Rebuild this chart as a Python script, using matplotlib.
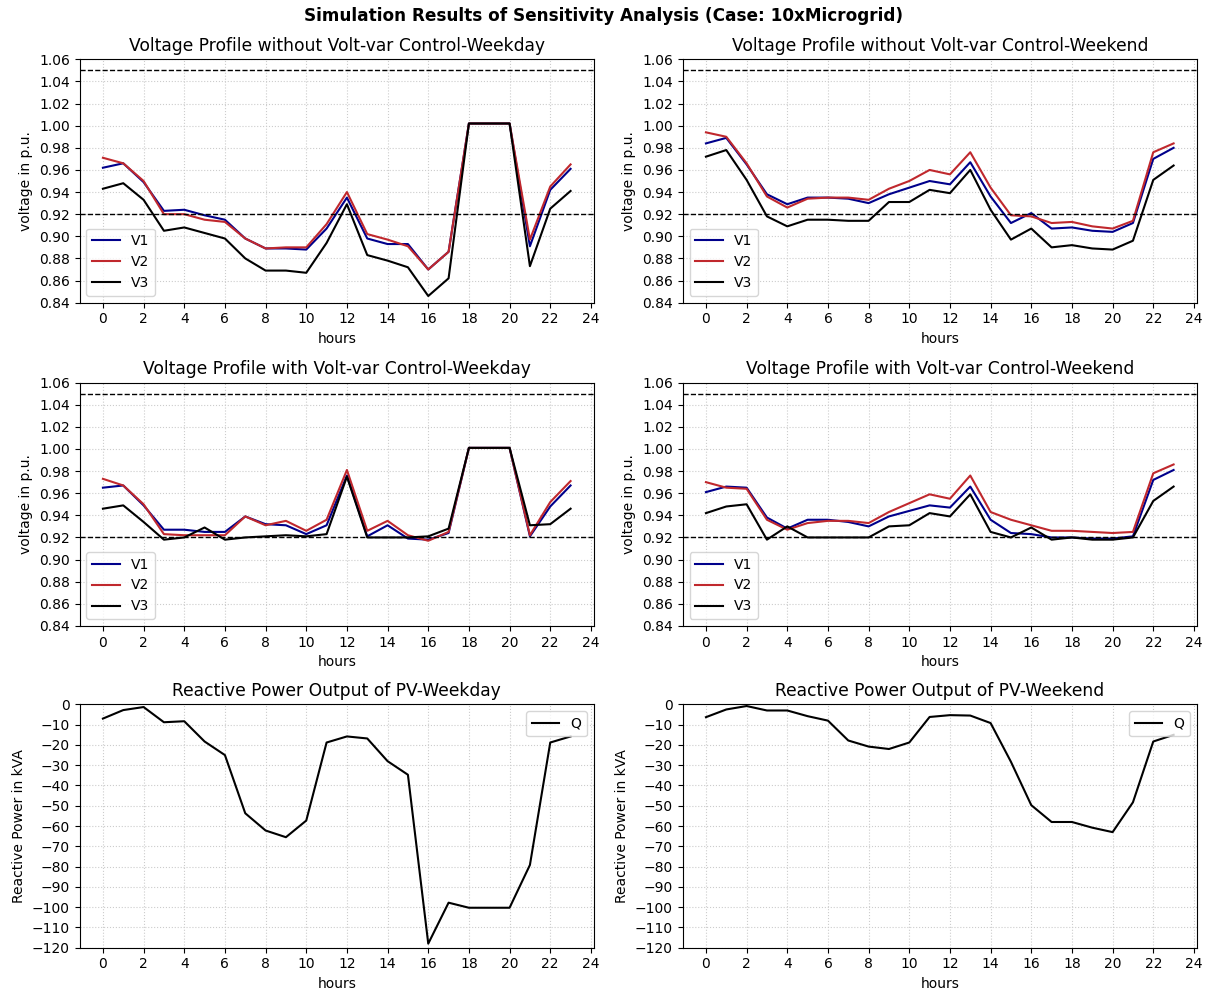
import matplotlib
matplotlib.use("Agg")
import matplotlib.pyplot as plt
import numpy as np

hours = np.arange(24)

# voltage without volt-var control, weekday
v1_nc_wd = [0.962, 0.966, 0.949, 0.923, 0.924, 0.919, 0.915, 0.898, 0.889, 0.889, 0.888, 0.907,
            0.935, 0.898, 0.893, 0.893, 0.870, 0.886, 1.002, 1.002, 1.002, 0.891, 0.942, 0.961]
v2_nc_wd = [0.971, 0.966, 0.950, 0.920, 0.920, 0.915, 0.913, 0.898, 0.889, 0.890, 0.890, 0.911,
            0.940, 0.902, 0.897, 0.891, 0.870, 0.886, 1.002, 1.002, 1.002, 0.897, 0.945, 0.965]
v3_nc_wd = [0.943, 0.948, 0.933, 0.905, 0.908, 0.903, 0.898, 0.880, 0.869, 0.869, 0.867, 0.894,
            0.929, 0.883, 0.878, 0.872, 0.846, 0.862, 1.002, 1.002, 1.002, 0.873, 0.925, 0.941]

# voltage without volt-var control, weekend
v1_nc_we = [0.984, 0.989, 0.965, 0.938, 0.929, 0.935, 0.935, 0.934, 0.930, 0.938, 0.944, 0.950,
            0.947, 0.967, 0.936, 0.912, 0.921, 0.907, 0.908, 0.905, 0.904, 0.912, 0.970, 0.980]
v2_nc_we = [0.994, 0.990, 0.966, 0.936, 0.926, 0.934, 0.935, 0.935, 0.933, 0.943, 0.950, 0.960,
            0.956, 0.976, 0.944, 0.919, 0.918, 0.912, 0.913, 0.909, 0.907, 0.914, 0.976, 0.984]
v3_nc_we = [0.972, 0.978, 0.951, 0.918, 0.909, 0.915, 0.915, 0.914, 0.914, 0.931, 0.931, 0.942,
            0.939, 0.960, 0.924, 0.897, 0.907, 0.890, 0.892, 0.889, 0.888, 0.896, 0.951, 0.964]

# voltage with volt-var control, weekday
v1_c_wd = [0.965, 0.967, 0.949, 0.927, 0.927, 0.925, 0.925, 0.939, 0.932, 0.931, 0.923, 0.931,
           0.976, 0.921, 0.931, 0.919, 0.918, 0.924, 1.001, 1.001, 1.001, 0.921, 0.948, 0.967]
v2_c_wd = [0.973, 0.967, 0.950, 0.923, 0.922, 0.922, 0.922, 0.939, 0.931, 0.935, 0.926, 0.936,
           0.981, 0.926, 0.935, 0.922, 0.917, 0.925, 1.001, 1.001, 1.001, 0.922, 0.952, 0.971]
v3_c_wd = [0.946, 0.949, 0.934, 0.918, 0.920, 0.929, 0.918, 0.920, 0.921, 0.922, 0.921, 0.923,
           0.975, 0.920, 0.920, 0.920, 0.921, 0.928, 1.001, 1.001, 1.001, 0.931, 0.932, 0.946]

# voltage with volt-var control, weekend
v1_c_we = [0.961, 0.966, 0.965, 0.938, 0.928, 0.936, 0.936, 0.934, 0.930, 0.939, 0.944, 0.949,
           0.947, 0.966, 0.936, 0.924, 0.923, 0.920, 0.920, 0.919, 0.919, 0.921, 0.972, 0.981]
v2_c_we = [0.970, 0.965, 0.964, 0.936, 0.927, 0.933, 0.935, 0.935, 0.933, 0.943, 0.951, 0.959,
           0.955, 0.976, 0.943, 0.936, 0.931, 0.926, 0.926, 0.925, 0.924, 0.925, 0.978, 0.986]
v3_c_we = [0.942, 0.948, 0.950, 0.918, 0.930, 0.920, 0.920, 0.920, 0.920, 0.930, 0.931, 0.942,
           0.939, 0.959, 0.925, 0.920, 0.929, 0.918, 0.920, 0.918, 0.918, 0.920, 0.953, 0.966]

# reactive power of PV
q_wd = [-7.0, -2.8, -1.3, -8.8, -8.3, -18.3, -25.0, -53.7, -62.2, -65.5, -57.3, -18.8,
        -15.8, -16.8, -28.0, -34.7, -118.0, -97.8, -100.3, -100.3, -100.3, -79.2, -18.8, -15.8]
q_we = [-6.3, -2.5, -0.8, -3.0, -3.0, -5.8, -8.0, -17.8, -20.8, -22.0, -18.8, -6.2,
        -5.3, -5.5, -9.2, -28.3, -49.7, -58.0, -58.0, -60.8, -63.0, -48.3, -18.3, -15.0]

fig = plt.figure(figsize=(12.07, 9.91), dpi=100)
fig.suptitle('Simulation Results of Sensitivity Analysis (Case: 10xMicrogrid)',
             fontweight='bold', fontsize=12.2, y=0.993)

lefts = [0.0659, 0.5655]
bottoms = [0.6946, 0.3684, 0.0437]
w, h = 0.4262, 0.2455

volt_panels = [
    ('Voltage Profile without Volt-var Control-Weekday', v1_nc_wd, v2_nc_wd, v3_nc_wd, 0, 0),
    ('Voltage Profile without Volt-var Control-Weekend', v1_nc_we, v2_nc_we, v3_nc_we, 0, 1),
    ('Voltage Profile with Volt-var Control-Weekday', v1_c_wd, v2_c_wd, v3_c_wd, 1, 0),
    ('Voltage Profile with Volt-var Control-Weekend', v1_c_we, v2_c_we, v3_c_we, 1, 1),
]

for title, v1, v2, v3, r, c in volt_panels:
    ax = fig.add_axes([lefts[c], bottoms[r], w, h])
    ax.plot(hours, v1, color='darkblue', label='V1')
    ax.plot(hours, v2, color='#c0282d', label='V2')
    ax.plot(hours, v3, color='black', label='V3')
    ax.axhline(1.05, color='black', linestyle='--', linewidth=1)
    ax.axhline(0.92, color='black', linestyle='--', linewidth=1)
    ax.set_ylim(0.84, 1.06)
    ax.set_yticks(np.arange(0.84, 1.0601, 0.02))
    ax.set_xticks(np.arange(0, 25, 2))
    ax.grid(True, linestyle=':', color='#cccccc')
    ax.set_title(title, fontsize=12.3)
    ax.set_xlabel('hours')
    ax.set_ylabel('voltage in p.u.')
    ax.legend(loc='lower left')

q_panels = [
    ('Reactive Power Output of PV-Weekday', q_wd, 0),
    ('Reactive Power Output of PV-Weekend', q_we, 1),
]

for title, q, c in q_panels:
    ax = fig.add_axes([lefts[c], bottoms[2], w, h])
    ax.plot(hours, q, color='black', label='Q')
    ax.set_ylim(-120, 0)
    ax.set_yticks(np.arange(-120, 1, 10))
    ax.set_xticks(np.arange(0, 25, 2))
    ax.grid(True, linestyle=':', color='#cccccc')
    ax.set_title(title, fontsize=12.3)
    ax.set_xlabel('hours')
    ax.set_ylabel('Reactive Power in kVA')
    ax.legend(loc='upper right')

fig.savefig('out.png', dpi=100)
